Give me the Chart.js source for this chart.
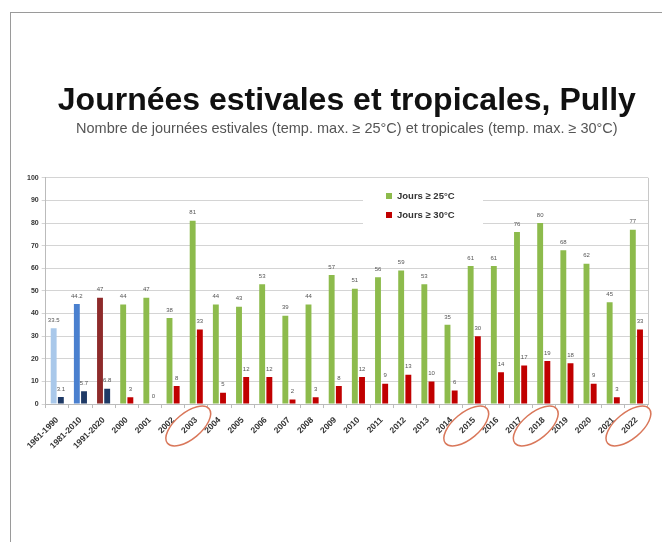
<!DOCTYPE html>
<html>
<head>
<meta charset="utf-8">
<script src="https://cdn.jsdelivr.net/npm/chart.js@4.4.1/dist/chart.umd.min.js"></script>
<style>
  html, body { margin: 0; padding: 0; background: #fff; }
  #cadre { position: absolute; left: 10px; top: 12px; width: 660px; height: 540px; border-left: 1px solid #9a9a9a; border-top: 1px solid #9a9a9a; }
  #graphique { position: absolute; left: 0; top: 0; }
</style>
</head>
<body>
<div id="cadre"></div>
<canvas id="graphique" width="662" height="542"></canvas>
<script>
// categorie (normes + annees)
var categorie = ['1961-1990', '1981-2010', '1991-2020', '2000', '2001', '2002', '2003', '2004', '2005', '2006',
    '2007', '2008', '2009', '2010', '2011', '2012', '2013', '2014', '2015', '2016',
    '2017', '2018', '2019', '2020', '2021', '2022'];
// jours >= 25°C
var jours25 = [33.5, 44.2, 47, 44, 47, 38, 81, 44, 43, 53,
    39, 44, 57, 51, 56, 59, 53, 35, 61, 61,
    76, 80, 68, 62, 45, 77];
// jours >= 30°C
var jours30 = [3.1, 5.7, 6.8, 3, 0, 8, 33, 5, 12, 12,
    2, 3, 8, 12, 9, 13, 10, 6, 30, 14,
    17, 19, 18, 9, 3, 33];
// annees entourees
var anneesEntourees = ['2003', '2015', '2018', '2022'];
var tickY = [0, 10, 20, 30, 40, 50, 60, 70, 80, 90, 100];

var vert = '#8dbb4c';
var rouge = '#c00000';
var couleurs25 = categorie.map(function (c, i) {
    if (i === 0) return '#a9c8ea';
    if (i === 1) return '#4a80cf';
    if (i === 2) return '#8e2a2a';
    return vert;
});
var couleurs30 = categorie.map(function (c, i) {
    if (i < 3) return '#1f3a66';
    return rouge;
});

var police = 'Liberation Sans, Arial, sans-serif';

// etiquettes au-dessus des barres
var etiquettes = {
    id: 'etiquettes',
    afterDatasetsDraw: function (chart) {
        var ctx = chart.ctx;
        ctx.save();
        ctx.font = '6px ' + police;
        ctx.fillStyle = '#555';
        ctx.textAlign = 'center';
        ctx.textBaseline = 'bottom';
        chart.data.datasets.forEach(function (ds, d) {
            chart.getDatasetMeta(d).data.forEach(function (bar, i) {
                ctx.fillText(String(ds.data[i]), bar.x, bar.y - 5);
            });
        });
        ctx.restore();
    }
};

// cadre du graphique, legende et ellipses
var decor = {
    id: 'decor',
    beforeDatasetsDraw: function (chart) {
        var a = chart.chartArea;
        var ctx = chart.ctx;
        ctx.save();
        ctx.strokeStyle = '#c8c8c8';
        ctx.lineWidth = 1;
        ctx.beginPath();
        ctx.moveTo(a.right + 0.5, a.top);
        ctx.lineTo(a.right + 0.5, a.bottom);
        ctx.stroke();
        // fond blanc de la legende
        ctx.fillStyle = '#fff';
        ctx.fillRect(363, 188, 120, 40);
        ctx.restore();
    },
    afterDraw: function (chart) {
        var ctx = chart.ctx;
        var xs = chart.scales.x;
        ctx.save();
        // legende
        var lignes = [{ t: 'Jours ≥ 25°C', c: vert }, { t: 'Jours ≥ 30°C', c: rouge }];
        ctx.font = 'bold 9.5px ' + police;
        ctx.textBaseline = 'middle';
        lignes.forEach(function (l, k) {
            var y = 196 + k * 19;
            ctx.fillStyle = l.c;
            ctx.fillRect(386, y - 3, 6, 6);
            ctx.fillStyle = '#333';
            ctx.fillText(l.t, 397, y);
        });
        // ellipses oranges
        ctx.strokeStyle = '#d9775a';
        ctx.lineWidth = 1.5;
        anneesEntourees.forEach(function (an) {
            var i = categorie.indexOf(an);
            var x = xs.getPixelForValue(i);
            ctx.beginPath();
            ctx.ellipse(x - 8, xs.top + 22, 27, 13, -Math.PI * 0.22, 0, Math.PI * 2);
            ctx.stroke();
        });
        ctx.restore();
    }
};

var ctx = document.getElementById('graphique');
var graphique = new Chart(ctx, {
    type: 'bar',
    data: {
        labels: categorie,
        datasets: [{
            label: 'Jours ≥ 25°C',
            data: jours25,
            backgroundColor: couleurs25,
            categoryPercentage: 0.62,
            barPercentage: 0.82
        }, {
            label: 'Jours ≥ 30°C',
            data: jours30,
            backgroundColor: couleurs30,
            categoryPercentage: 0.62,
            barPercentage: 0.82
        }]
    },
    options: {
        responsive: false,
        animation: false,
        layout: { padding: { top: 82, left: 24, right: 14, bottom: 84 } },
        plugins: {
            legend: { display: false },
            tooltip: { enabled: false },
            title: {
                display: true,
                fullSize: false,
                text: 'Journées estivales et tropicales, Pully',
                color: '#111',
                font: { family: police, size: 32, weight: 'bold' },
                padding: { top: 0, bottom: 0 }
            },
            subtitle: {
                display: true,
                fullSize: false,
                text: 'Nombre de journées estivales (temp. max. ≥ 25°C) et tropicales (temp. max. ≥ 30°C)',
                color: '#555',
                font: { family: police, size: 14.5 },
                padding: { top: 0, bottom: 40 }
            }
        },
        scales: {
            x: {
                grid: { display: true, drawOnChartArea: false, tickLength: 4, color: '#bbb' },
                border: { color: '#bbb' },
                ticks: {
                    minRotation: 45, maxRotation: 45,
                    color: '#333',
                    font: { family: police, size: 8.5, weight: 'bold' },
                    padding: 7
                }
            },
            y: {
                min: 0, max: 100,
                afterBuildTicks: function (axis) {
                    axis.ticks = tickY.map(function (v) { return { value: v }; });
                },
                grid: { color: '#d4d4d4', tickLength: 4 },
                border: { color: '#bbb' },
                ticks: {
                    color: '#333',
                    font: { family: police, size: 7, weight: 'bold' },
                    padding: 3
                }
            }
        }
    },
    plugins: [etiquettes, decor]
});
</script>
</body>
</html>
